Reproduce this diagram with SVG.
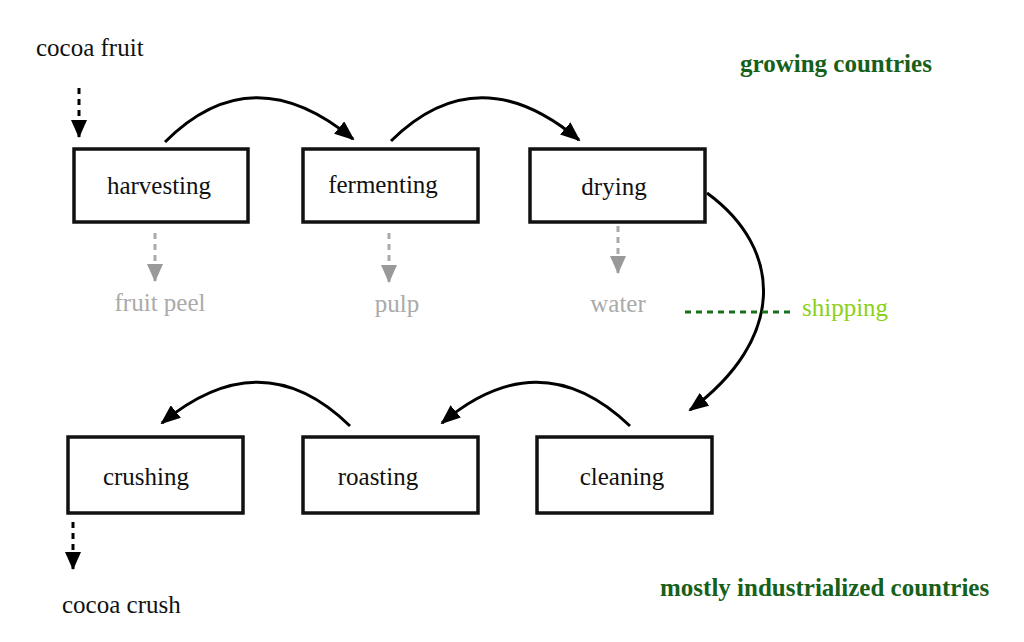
<svg xmlns="http://www.w3.org/2000/svg" width="1024" height="642" viewBox="0 0 1024 642">
<defs>
<style>
.box{fill:#fff;stroke:#111;stroke-width:3.5}
.lbl{font-family:"Liberation Serif",serif;font-size:25px;fill:#111;text-anchor:middle}
.out{font-family:"Liberation Serif",serif;font-size:25px;fill:#aaa;text-anchor:middle}
.txt{font-family:"Liberation Serif",serif;font-size:25px;fill:#111}
.flow{fill:none;stroke:#000;stroke-width:3}
.dk{fill:none;stroke:#000;stroke-width:3;stroke-dasharray:6 5}
.gr{fill:none;stroke:#aaa;stroke-width:3;stroke-dasharray:6 5}
.region{font-family:"Liberation Serif",serif;font-size:25px;font-weight:bold;fill:#17601a}
</style>
<marker id="ah" viewBox="0 0 20 16" refX="18" refY="8" markerWidth="20" markerHeight="16" markerUnits="userSpaceOnUse" orient="auto">
<path d="M0,0 L20,8 L0,16 Z" fill="#000"/>
</marker>
<marker id="ahd" viewBox="0 0 18 16" refX="17" refY="8" markerWidth="18" markerHeight="16" markerUnits="userSpaceOnUse" orient="auto">
<path d="M0,0 L18,8 L0,16 Z" fill="#000"/>
</marker>
<marker id="ahg" viewBox="0 0 18 16" refX="17" refY="8" markerWidth="18" markerHeight="16" markerUnits="userSpaceOnUse" orient="auto">
<path d="M0,0 L18,8 L0,16 Z" fill="#999"/>
</marker>
</defs>
<rect width="1024" height="642" fill="#fff"/>

<g id="connectors">
<path class="flow" d="M165,142 Q252,55 353,139" marker-end="url(#ah)"/>
<path class="flow" d="M391,141 Q478,55 579,140" marker-end="url(#ah)"/>
<path class="flow" d="M707,193 C785,250 785,340 690,410" marker-end="url(#ah)"/>
<path class="flow" d="M630,426 Q540,340 442,423" marker-end="url(#ah)"/>
<path class="flow" d="M350,426 Q262,340 162,423" marker-end="url(#ah)"/>
<path class="dk" d="M79,88 L79,137" marker-end="url(#ahd)"/>
<path class="dk" d="M73,522 L73,569" marker-end="url(#ahd)"/>
<path class="gr" d="M155,233 L155,281" marker-end="url(#ahg)"/>
<path class="gr" d="M389,233 L389,282" marker-end="url(#ahg)"/>
<path class="gr" d="M618,226 L618,273" marker-end="url(#ahg)"/>
<path d="M685,312 L795,312" fill="none" stroke="#17701a" stroke-width="3" stroke-dasharray="6 5"/>
</g>

<g id="harvesting"><rect class="box" x="74" y="149" width="174" height="73"/><text class="lbl" x="159" y="194">harvesting</text></g>
<g id="fermenting"><rect class="box" x="303" y="149" width="175" height="73"/><text class="lbl" x="383" y="193">fermenting</text></g>
<g id="drying"><rect class="box" x="530" y="149" width="175" height="73"/><text class="lbl" x="614" y="195">drying</text></g>
<g id="crushing"><rect class="box" x="68" y="437" width="175" height="76"/><text class="lbl" x="146" y="485">crushing</text></g>
<g id="roasting"><rect class="box" x="303" y="437" width="175" height="76"/><text class="lbl" x="378" y="485">roasting</text></g>
<g id="cleaning"><rect class="box" x="537" y="437" width="175" height="76"/><text class="lbl" x="622" y="485">cleaning</text></g>

<g id="labels">
<text class="txt" x="36" y="56">cocoa fruit</text>
<text class="txt" x="62" y="613">cocoa crush</text>
<text class="out" x="160" y="311">fruit peel</text>
<text class="out" x="397" y="312">pulp</text>
<text class="out" x="618" y="312">water</text>
<text x="802" y="316" font-family="Liberation Serif,serif" font-size="25" fill="#8cd118">shipping</text>
<text class="region" x="740" y="72">growing countries</text>
<text class="region" x="660" y="596">mostly industrialized countries</text>
</g>
</svg>
